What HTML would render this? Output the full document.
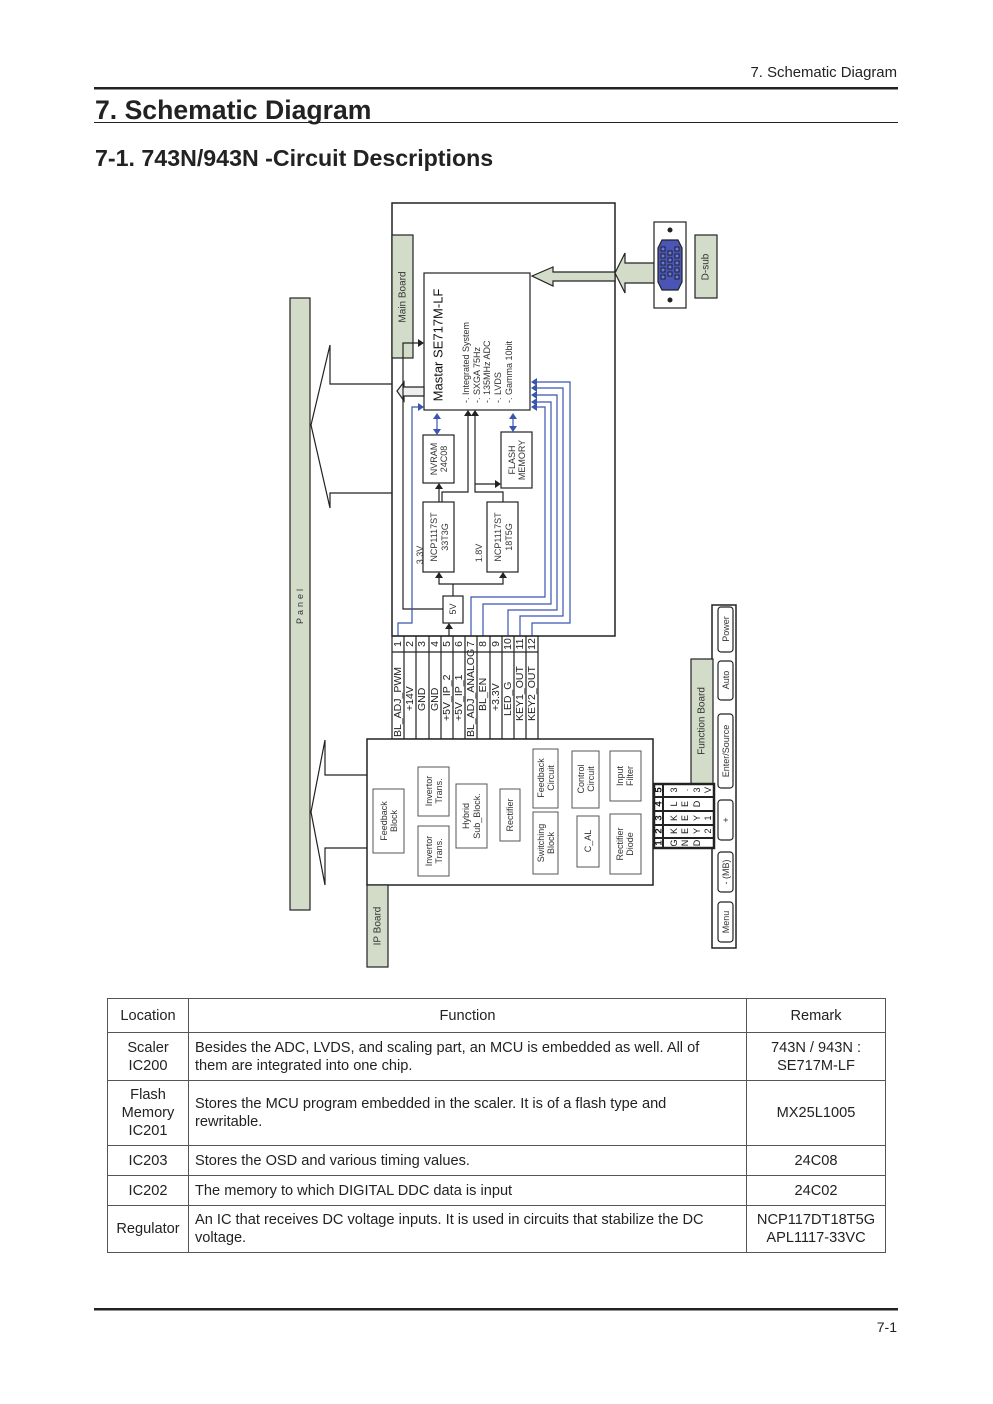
<!DOCTYPE html>
<html><head><meta charset="utf-8"><style>
body{margin:0;background:#fff;}
#p{position:relative;width:993px;height:1404px;font-family:"Liberation Sans",sans-serif;color:#222;}
svg{position:absolute;left:0;top:0;}
table{position:absolute;left:107px;top:998px;width:779px;border-collapse:collapse;font-size:14.6px;}
td{border:1px solid #555;padding:2px 6px;line-height:18px;}
td.f{padding-right:30px;}
</style></head><body><div id="p">
<svg width="993" height="1404" viewBox="0 0 993 1404" font-family="Liberation Sans, sans-serif">
<text x="897" y="77" font-size="14.9" text-anchor="end" fill="#222">7. Schematic Diagram</text>
<rect x="94" y="87" width="804" height="2.5" fill="#222"/>
<text x="95" y="119" font-size="26.6" font-weight="bold" fill="#222">7. Schematic Diagram</text>
<rect x="94" y="122" width="804" height="1" fill="#222"/>
<text x="95" y="166" font-size="23.2" font-weight="bold" fill="#222">7-1. 743N/943N -Circuit Descriptions</text>

<g stroke="#222" fill="none" stroke-width="1.2">
<rect x="290" y="298" width="20" height="612" fill="#d3dcc8"/>
<polyline points="392,384 330,384 330,345 311,425 330,508 330,493 392,493" fill="#fff"/>
<polyline points="367,775 325,775 325,740 311,812 325,885 325,848 367,848" fill="#fff"/>
<rect x="392" y="203" width="223" height="433" fill="#fff" stroke-width="1.5"/>
<rect x="392" y="235" width="21" height="123" fill="#d3dcc8"/>
<rect x="424" y="273" width="106" height="137" fill="#fff"/>
<polygon points="532,276 553,267 553,272 615,272 615,281 553,281 553,286" fill="#d3dcc8"/>
<polygon points="615,273 625,253 625,263 654,263 654,283 625,283 625,293" fill="#d3dcc8"/>
<rect x="654" y="222" width="32" height="86" fill="#fff"/>
<rect x="695" y="235" width="22" height="63" fill="#d3dcc8"/>
<polygon points="397,391 404,382 404,387 424,387 424,396 404,396 404,401" fill="#eee"/>
<rect x="423" y="435" width="31" height="48" fill="#fff"/>
<rect x="501" y="432" width="31" height="56" fill="#fff"/>
<rect x="423" y="502" width="31" height="70" fill="#fff"/>
<rect x="487" y="502" width="31" height="70" fill="#fff"/>
<rect x="443" y="596" width="20" height="27" fill="#fff"/>
<polyline points="443,609 403,609 403,343 420,343"/>
<polyline points="453,596 453,584"/>
<polyline points="439,576 439,584 503,584 503,576"/>
<polyline points="439,502 439,487"/>
<polyline points="442,502 442,492 468,492 468,414"/>
<polyline points="503,502 503,492 475,492 475,414"/>
<polyline points="475,484 497,484"/>
<polyline points="449,636 449,627"/>
</g>
<g fill="#222">
<polygon points="424,343 418,339 418,347"/>
<polygon points="439,572 435,578 443,578"/>
<polygon points="503,572 499,578 507,578"/>
<polygon points="439,483 435,489 443,489"/>
<polygon points="468,410 464,416 472,416"/>
<polygon points="475,410 471,416 479,416"/>
<polygon points="501,484 495,480 495,488"/>
<polygon points="449,623 445,629 453,629"/>
</g>
<g stroke="#3a55b0" fill="none" stroke-width="1.2">
<polyline points="398,636 398,623 412,623 412,407 420,407"/>
<polyline points="437,418 437,430"/><polyline points="513,418 513,428"/>
<polyline points="536,382 570,382 570,623 532,623 532,636"/>
<polyline points="536,388 563,388 563,616 520,616 520,636"/>
<polyline points="536,395 557,395 557,610 508,610 508,636"/>
<polyline points="536,402 551,402 551,604 483,604 483,636"/>
<polyline points="536,407 545,407 545,597 471,597 471,636"/>
</g>
<g fill="#3a55b0">
<polygon points="424,407 418,403 418,411"/>
<polygon points="437,413 433,419 441,419"/><polygon points="437,435 433,429 441,429"/>
<polygon points="513,413 509,419 517,419"/><polygon points="513,432 509,426 517,426"/>
<polygon points="531,382 537,378 537,386"/><polygon points="531,388 537,384 537,392"/>
<polygon points="531,395 537,391 537,399"/><polygon points="531,402 537,398 537,406"/>
<polygon points="531,407 537,403 537,411"/>
</g>
<path d="M662,240 L678,240 L682,248 L682,282 L678,290 L662,290 L658,282 L658,248 Z" fill="#4a55b5" stroke="#222" stroke-width="1.2"/>
<g fill="#222"><circle cx="670" cy="230" r="2.5"/><circle cx="670" cy="300" r="2.5"/></g>
<g fill="#6a7ad0" stroke="#111" stroke-width="0.8">
<rect x="661" y="247" width="4" height="4"/><rect x="661" y="254" width="4" height="4"/><rect x="661" y="261" width="4" height="4"/><rect x="661" y="268" width="4" height="4"/><rect x="661" y="275" width="4" height="4"/>
<rect x="668" y="251" width="4" height="4"/><rect x="668" y="258" width="4" height="4"/><rect x="668" y="265" width="4" height="4"/><rect x="668" y="272" width="4" height="4"/>
<rect x="675" y="247" width="4" height="4"/><rect x="675" y="254" width="4" height="4"/><rect x="675" y="261" width="4" height="4"/><rect x="675" y="268" width="4" height="4"/><rect x="675" y="275" width="4" height="4"/>
</g>

<g stroke="#222" stroke-width="1.2" fill="none">
<rect x="392" y="636" width="146" height="103"/>
<line x1="392" y1="652" x2="538" y2="652"/>
<line x1="404" y1="636" x2="404" y2="739"/><line x1="416" y1="636" x2="416" y2="739"/><line x1="429" y1="636" x2="429" y2="739"/><line x1="441" y1="636" x2="441" y2="739"/><line x1="453" y1="636" x2="453" y2="739"/><line x1="465" y1="636" x2="465" y2="739"/><line x1="477" y1="636" x2="477" y2="739"/><line x1="490" y1="636" x2="490" y2="739"/><line x1="502" y1="636" x2="502" y2="739"/><line x1="514" y1="636" x2="514" y2="739"/><line x1="526" y1="636" x2="526" y2="739"/>
</g>
<g font-size="10.5" fill="#222" dominant-baseline="central">
<text transform="translate(398,644) rotate(-90)" text-anchor="middle">1</text>
<text transform="translate(410,644) rotate(-90)" text-anchor="middle">2</text>
<text transform="translate(422,644) rotate(-90)" text-anchor="middle">3</text>
<text transform="translate(435,644) rotate(-90)" text-anchor="middle">4</text>
<text transform="translate(447,644) rotate(-90)" text-anchor="middle">5</text>
<text transform="translate(459,644) rotate(-90)" text-anchor="middle">6</text>
<text transform="translate(471,644) rotate(-90)" text-anchor="middle">7</text>
<text transform="translate(483,644) rotate(-90)" text-anchor="middle">8</text>
<text transform="translate(496,644) rotate(-90)" text-anchor="middle">9</text>
<text transform="translate(508,644) rotate(-90)" text-anchor="middle">10</text>
<text transform="translate(520,644) rotate(-90)" text-anchor="middle">11</text>
<text transform="translate(532,644) rotate(-90)" text-anchor="middle">12</text>
<text transform="translate(398,737) rotate(-90)">BL_ADJ_PWM</text>
<text transform="translate(410,711) rotate(-90)">+14V</text>
<text transform="translate(422,711) rotate(-90)">GND</text>
<text transform="translate(435,711) rotate(-90)">GND</text>
<text transform="translate(447,721) rotate(-90)">+5V_IP_2</text>
<text transform="translate(459,721) rotate(-90)">+5V_IP_1</text>
<text transform="translate(471,737) rotate(-90)">BL_ADJ_ANALOG</text>
<text transform="translate(483,711) rotate(-90)">BL_EN</text>
<text transform="translate(496,711) rotate(-90)">+3.3V</text>
<text transform="translate(508,716) rotate(-90)">LED_G</text>
<text transform="translate(520,721) rotate(-90)">KEY1_OUT</text>
<text transform="translate(532,721) rotate(-90)">KEY2_OUT</text>
</g>

<g stroke="#222" stroke-width="1.2" fill="#fff">
<rect x="367" y="739" width="286" height="146" stroke-width="1.5"/>
<rect x="367" y="885" width="21" height="82" fill="#d3dcc8"/>
<g stroke="#555" stroke-width="1">
<rect x="373" y="789" width="31" height="64"/>
<rect x="418" y="767" width="31" height="49"/>
<rect x="418" y="826" width="31" height="50"/>
<rect x="456" y="784" width="31" height="64"/>
<rect x="500" y="789" width="20" height="52"/>
<rect x="533" y="749" width="25" height="59"/>
<rect x="533" y="812" width="25" height="62"/>
<rect x="572" y="751" width="27" height="57"/>
<rect x="577" y="816" width="22" height="51"/>
<rect x="610" y="751" width="31" height="50"/>
<rect x="610" y="814" width="31" height="60"/>
</g>
<rect x="712" y="605" width="24" height="343" stroke-width="1.5"/>
<rect x="691" y="659" width="22" height="125" fill="#d3dcc8"/>
<rect x="718" y="607" width="15" height="45" rx="3"/>
<rect x="718" y="661" width="15" height="39" rx="3"/>
<rect x="718" y="714" width="15" height="74" rx="3"/>
<rect x="718" y="800" width="15" height="40" rx="3"/>
<rect x="718" y="852" width="15" height="40" rx="3"/>
<rect x="718" y="902" width="15" height="40" rx="3"/>
<rect x="654" y="784" width="60" height="64" stroke-width="2.5"/>
<line x1="663" y1="784" x2="663" y2="848" stroke-width="2"/>
<line x1="654" y1="797" x2="714" y2="797" stroke-width="2"/>
<line x1="654" y1="811" x2="714" y2="811" stroke-width="2"/>
<line x1="654" y1="825" x2="714" y2="825" stroke-width="2"/>
<line x1="654" y1="838" x2="714" y2="838" stroke-width="2"/>
</g>
<g font-size="9" fill="#333" dominant-baseline="central" text-anchor="middle">
<text transform="translate(300,605) rotate(-90)" letter-spacing="3">Panel</text>
<text transform="translate(403,297) rotate(-90)" font-size="10">Main Board</text>
<text transform="translate(706,267) rotate(-90)" font-size="10">D-sub</text>
<text transform="translate(378,926) rotate(-90)" font-size="10">IP Board</text>
<text transform="translate(702,721) rotate(-90)" font-size="10">Function Board</text>
<text transform="translate(438,345) rotate(-90)" font-size="13" fill="#111">Mastar SE717M-LF</text>
<text transform="translate(466,403) rotate(-90)" text-anchor="start" font-size="9">-. Integrated System</text>
<text transform="translate(477,403) rotate(-90)" text-anchor="start" font-size="9">-. SXGA 75Hz</text>
<text transform="translate(487,403) rotate(-90)" text-anchor="start" font-size="9">-. 135MHz ADC</text>
<text transform="translate(498,403) rotate(-90)" text-anchor="start" font-size="9">-. LVDS</text>
<text transform="translate(509,403) rotate(-90)" text-anchor="start" font-size="9">-. Gamma 10bit</text>
<text transform="translate(434,459) rotate(-90)">NVRAM</text>
<text transform="translate(444,459) rotate(-90)">24C08</text>
<text transform="translate(512,460) rotate(-90)">FLASH</text>
<text transform="translate(522,460) rotate(-90)">MEMORY</text>
<text transform="translate(434,537) rotate(-90)">NCP1117ST</text>
<text transform="translate(445,537) rotate(-90)">33T3G</text>
<text transform="translate(498,537) rotate(-90)">NCP1117ST</text>
<text transform="translate(509,537) rotate(-90)">18T5G</text>
<text transform="translate(420,555) rotate(-90)">3.3V</text>
<text transform="translate(479,553) rotate(-90)">1.8V</text>
<text transform="translate(453,609) rotate(-90)">5V</text>
<text transform="translate(384,821) rotate(-90)">Feedback</text>
<text transform="translate(394,821) rotate(-90)">Block</text>
<text transform="translate(429,791) rotate(-90)">Invertor</text>
<text transform="translate(439,791) rotate(-90)">Trans.</text>
<text transform="translate(429,851) rotate(-90)">Invertor</text>
<text transform="translate(439,851) rotate(-90)">Trans.</text>
<text transform="translate(466,816) rotate(-90)">Hybrid</text>
<text transform="translate(477,816) rotate(-90)">Sub_Block.</text>
<text transform="translate(510,815) rotate(-90)">Rectifier</text>
<text transform="translate(541,778) rotate(-90)">Feedback</text>
<text transform="translate(551,778) rotate(-90)">Circuit</text>
<text transform="translate(541,843) rotate(-90)">Switching</text>
<text transform="translate(551,843) rotate(-90)">Block</text>
<text transform="translate(581,779) rotate(-90)">Control</text>
<text transform="translate(591,779) rotate(-90)">Circuit</text>
<text transform="translate(588,841) rotate(-90)">C_AL</text>
<text transform="translate(620,776) rotate(-90)">Input</text>
<text transform="translate(630,776) rotate(-90)">Filter</text>
<text transform="translate(620,844) rotate(-90)">Rectifier</text>
<text transform="translate(630,844) rotate(-90)">Diode</text>
<text transform="translate(726,629) rotate(-90)">Power</text>
<text transform="translate(726,680) rotate(-90)">Auto</text>
<text transform="translate(726,751) rotate(-90)">Enter/Source</text>
<text transform="translate(726,820) rotate(-90)">+</text>
<text transform="translate(726,872) rotate(-90)">- (MB)</text>
<text transform="translate(726,922) rotate(-90)">Menu</text>
</g>
<g font-size="9.5" font-weight="bold" fill="#111" dominant-baseline="central" text-anchor="middle">
<text transform="translate(659,843) rotate(-90)">1</text>
<text transform="translate(659,831) rotate(-90)">2</text>
<text transform="translate(659,818) rotate(-90)">3</text>
<text transform="translate(659,804) rotate(-90)">4</text>
<text transform="translate(659,790) rotate(-90)">5</text>
</g>
<g font-size="9" fill="#111" dominant-baseline="central" text-anchor="middle">
<text transform="translate(674,843) rotate(-90)">G</text><text transform="translate(685,843) rotate(-90)">N</text><text transform="translate(697,843) rotate(-90)">D</text>
<text transform="translate(674,831) rotate(-90)">K</text><text transform="translate(685,831) rotate(-90)">E</text><text transform="translate(697,831) rotate(-90)">Y</text><text transform="translate(708,831) rotate(-90)">2</text>
<text transform="translate(674,818) rotate(-90)">K</text><text transform="translate(685,818) rotate(-90)">E</text><text transform="translate(697,818) rotate(-90)">Y</text><text transform="translate(708,818) rotate(-90)">1</text>
<text transform="translate(674,804) rotate(-90)">L</text><text transform="translate(685,804) rotate(-90)">E</text><text transform="translate(697,804) rotate(-90)">D</text>
<text transform="translate(674,790) rotate(-90)">3</text><text transform="translate(685,790) rotate(-90)">.</text><text transform="translate(697,790) rotate(-90)">3</text><text transform="translate(708,790) rotate(-90)">V</text>
</g>

<rect x="94" y="1308" width="804" height="2.5" fill="#222"/>
<text x="897" y="1332" font-size="14" text-anchor="end" fill="#222">7-1</text>
</svg>
<table>
<tr style="height:34px"><td style="width:68px;text-align:center">Location</td><td style="text-align:center">Function</td><td style="width:126px;text-align:center">Remark</td></tr>
<tr style="height:48px"><td style="text-align:center">Scaler<br>IC200</td><td class="f">Besides the ADC, LVDS, and scaling part, an MCU is embedded as well. All of them are integrated into one chip.</td><td style="text-align:center">743N / 943N :<br>SE717M-LF</td></tr>
<tr style="height:65px"><td style="text-align:center">Flash<br>Memory<br>IC201</td><td class="f">Stores the MCU program embedded in the scaler. It is of a flash type and rewritable.</td><td style="text-align:center">MX25L1005</td></tr>
<tr style="height:30px"><td style="text-align:center">IC203</td><td class="f">Stores the OSD and various timing values.</td><td style="text-align:center">24C08</td></tr>
<tr style="height:30px"><td style="text-align:center">IC202</td><td class="f">The memory to which DIGITAL DDC data is input</td><td style="text-align:center">24C02</td></tr>
<tr style="height:47px"><td style="text-align:center">Regulator</td><td class="f">An IC that receives DC voltage inputs. It is used in circuits that stabilize the DC voltage.</td><td style="text-align:center">NCP117DT18T5G<br>APL1117-33VC</td></tr>
</table>
</div></body></html>
